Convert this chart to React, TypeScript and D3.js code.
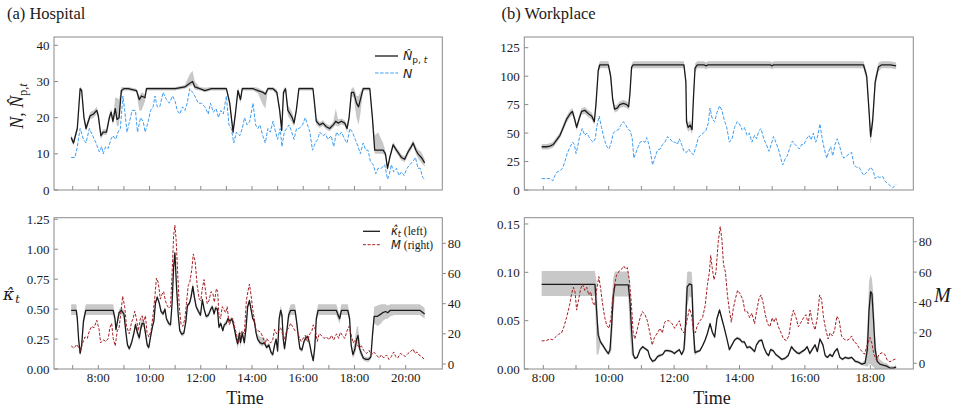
import React from 'react';
import * as d3 from 'd3';

// =============================================================================
// Data (time in decimal hours; estimator rows are [t, value, bandLow, bandHigh?])
// =============================================================================

type Pt = number[];

const hospNp: Pt[] = [
  [6.94, 14.5, 0.8], [7.03, 13, 0.8], [7.18, 17, 0.8], [7.29, 28, 0.6], [7.35, 27.5, 0.6], [7.44, 20, 0.8],
  [7.52, 17, 0.8], [7.61, 19, 1], [7.68, 20.5, 1], [7.81, 21, 1], [7.94, 22, 1], [8.0, 20.5, 1], [8.1, 15, 1],
  [8.19, 16, 0.8], [8.32, 16, 0.8], [8.43, 20, 1], [8.5, 21.5, 1], [8.57, 19, 1], [8.66, 22.5, 1.5, 3],
  [8.73, 19.5, 2, 6], [8.81, 20, 2, 5], [8.9, 27.5, 1], [9.0, 28, 0.5], [9.17, 28, 0.5], [9.49, 27.5, 0.5],
  [9.6, 25, 3, 1], [9.69, 26, 4, 1], [9.82, 25.5, 1], [9.88, 28, 0.5], [11.0, 28, 0.5], [11.38, 28.5, 0.5],
  [11.57, 29.5, 0.8, 2.5], [11.68, 30, 1, 3], [11.77, 28.5, 0.8, 1.5], [11.96, 28, 0.5], [12.16, 27.5, 0.5, 0.8],
  [12.42, 28, 0.5], [13.0, 28, 0.5], [13.13, 24, 1], [13.26, 16, 1], [13.35, 21, 1], [13.45, 27.5, 1],
  [13.55, 25, 1], [13.62, 28, 0.5], [14.04, 28, 0.5], [14.23, 27.5, 0.8], [14.43, 27, 3.5, 0.5],
  [14.52, 26.5, 4, 0.5], [14.62, 28, 0.5], [14.82, 28, 0.5], [14.97, 27, 0.8], [15.08, 22, 1], [15.16, 16.5, 1],
  [15.23, 27, 1], [15.31, 28, 0.6], [15.4, 22, 1.5], [15.49, 21, 1.5], [15.57, 20, 1.5], [15.64, 18.5, 1],
  [15.73, 22, 1], [15.83, 28, 0.5], [16.38, 28, 0.5], [16.44, 24, 1], [16.51, 19, 1], [16.64, 18, 0.8],
  [16.77, 18.5, 0.8], [16.9, 17.5, 0.8], [17.03, 17, 0.8], [17.17, 18, 0.8], [17.27, 19, 1, 3.5],
  [17.36, 18.5, 1], [17.49, 19, 0.8], [17.62, 18.5, 0.8], [17.71, 17, 1], [17.79, 20, 1], [17.88, 27, 1],
  [17.97, 27, 1.5], [18.08, 24, 4, 2], [18.16, 23, 5, 3], [18.23, 25, 4, 2], [18.34, 28, 0.5], [18.6, 28, 0.5],
  [18.7, 20, 1], [18.79, 11, 1, 4], [18.92, 11, 1, 5], [19.12, 11, 1, 2], [19.21, 10, 0.8], [19.29, 6, 0.8],
  [19.38, 9, 0.8], [19.51, 12.5, 0.8], [19.64, 11, 0.8], [19.74, 10, 0.8], [19.83, 9, 0.8], [19.96, 8.5, 0.8],
  [20.09, 10.5, 0.8], [20.22, 12, 0.8], [20.29, 13, 0.8], [20.4, 11, 1], [20.48, 10, 1.2], [20.61, 9, 1.5],
  [20.74, 7.5, 1],
];

const hospN: Pt[] = [
  [6.94, 9], [7.09, 9], [7.18, 12], [7.29, 17], [7.42, 14], [7.52, 13], [7.65, 17], [7.78, 15], [7.91, 13],
  [8.04, 10.5], [8.13, 12], [8.19, 10], [8.29, 12], [8.39, 11.5], [8.49, 14], [8.57, 15], [8.68, 14], [8.77, 16],
  [8.86, 17], [8.96, 26], [9.03, 22], [9.12, 16], [9.22, 19], [9.32, 22], [9.45, 22], [9.53, 16], [9.65, 20],
  [9.75, 19], [9.83, 16], [9.95, 19], [10.04, 22], [10.14, 23], [10.21, 26], [10.3, 23], [10.4, 23], [10.53, 27],
  [10.66, 25], [10.77, 24], [10.9, 26], [11.0, 24.5], [11.08, 22], [11.18, 21], [11.29, 23], [11.38, 22],
  [11.47, 24], [11.57, 28], [11.68, 27], [11.77, 26], [11.9, 24], [12.03, 24], [12.16, 23], [12.29, 21],
  [12.38, 24], [12.49, 21.5], [12.6, 22.5], [12.69, 20], [12.78, 22], [12.88, 21], [13.0, 26], [13.1, 18],
  [13.19, 17], [13.29, 13], [13.39, 16], [13.52, 15], [13.62, 17], [13.71, 20], [13.81, 18], [13.91, 19],
  [14.04, 24], [14.14, 18], [14.23, 17], [14.31, 18], [14.42, 15], [14.52, 13], [14.62, 17], [14.71, 16],
  [14.82, 19], [14.92, 16], [15.0, 14], [15.1, 17], [15.17, 12], [15.26, 16], [15.35, 17], [15.45, 18],
  [15.55, 16], [15.64, 14], [15.74, 17], [15.84, 17], [15.97, 18], [16.08, 20], [16.17, 18], [16.26, 16],
  [16.36, 11], [16.47, 13], [16.56, 14], [16.65, 16], [16.77, 15], [16.87, 15.5], [16.96, 14], [17.09, 15],
  [17.19, 12], [17.3, 16], [17.4, 15], [17.49, 16], [17.62, 14], [17.71, 13], [17.82, 17], [17.92, 16],
  [18.03, 14], [18.14, 12], [18.23, 10], [18.34, 13], [18.44, 11], [18.53, 11], [18.62, 8], [18.73, 7],
  [18.83, 4.5], [18.92, 6], [19.05, 6], [19.18, 7], [19.29, 3], [19.35, 4], [19.44, 7], [19.53, 5], [19.64, 6],
  [19.74, 4], [19.83, 5], [19.94, 4], [20.05, 6], [20.16, 7], [20.29, 8], [20.38, 9], [20.48, 6], [20.57, 6],
  [20.66, 3.5], [20.74, 3],
];

const hospKappa: Pt[] = [
  [6.94, 0.49, 0.04, 0.05], [7.14, 0.49, 0.04, 0.05], [7.18, 0.42, 0.04], [7.23, 0.25, 0.03], [7.29, 0.13, 0.02],
  [7.35, 0.2, 0.03], [7.42, 0.4, 0.04], [7.51, 0.49, 0.04, 0.05], [8.58, 0.49, 0.04, 0.05], [8.65, 0.42, 0.03],
  [8.69, 0.33, 0.03], [8.75, 0.4, 0.03], [8.81, 0.47, 0.03], [8.9, 0.49, 0.03], [9.0, 0.46, 0.03], [9.08, 0.3, 0.02],
  [9.14, 0.2, 0.02], [9.21, 0.17, 0.02], [9.3, 0.22, 0.02], [9.39, 0.3, 0.02], [9.45, 0.37, 0.03], [9.53, 0.3, 0.03],
  [9.6, 0.26, 0.03], [9.65, 0.33, 0.03, 0.06], [9.71, 0.38, 0.03, 0.06], [9.78, 0.38, 0.03], [9.84, 0.3, 0.03],
  [9.91, 0.2, 0.02], [9.97, 0.18, 0.02], [10.04, 0.27, 0.02], [10.12, 0.36, 0.02], [10.17, 0.4, 0.02],
  [10.23, 0.55, 0.02], [10.3, 0.6, 0.02], [10.38, 0.55, 0.02], [10.45, 0.48, 0.02], [10.53, 0.46, 0.02],
  [10.6, 0.5, 0.02], [10.66, 0.42, 0.02], [10.75, 0.38, 0.02], [10.82, 0.37, 0.02], [10.88, 0.55, 0.02],
  [10.94, 0.85, 0.02], [10.99, 0.97, 0.03], [11.05, 0.7, 0.02], [11.12, 0.45, 0.02], [11.18, 0.32, 0.02],
  [11.26, 0.29, 0.02], [11.34, 0.3, 0.02], [11.42, 0.4, 0.02], [11.48, 0.53, 0.02], [11.56, 0.55, 0.02],
  [11.62, 0.6, 0.03], [11.69, 0.69, 0.03], [11.75, 0.6, 0.03], [11.82, 0.52, 0.02], [11.91, 0.48, 0.02],
  [11.99, 0.45, 0.02], [12.06, 0.58, 0.02], [12.13, 0.5, 0.02], [12.21, 0.44, 0.02], [12.3, 0.45, 0.02],
  [12.39, 0.5, 0.02], [12.45, 0.52, 0.02], [12.52, 0.46, 0.02], [12.58, 0.51, 0.02], [12.65, 0.5, 0.02],
  [12.71, 0.35, 0.02], [12.78, 0.38, 0.02], [12.86, 0.32, 0.02], [12.92, 0.37, 0.02], [12.99, 0.38, 0.02],
  [13.06, 0.42, 0.02], [13.14, 0.4, 0.02], [13.22, 0.42, 0.02], [13.3, 0.35, 0.02], [13.38, 0.26, 0.03],
  [13.44, 0.21, 0.04], [13.51, 0.3, 0.04], [13.55, 0.22, 0.04], [13.62, 0.3, 0.03], [13.7, 0.22, 0.03],
  [13.77, 0.35, 0.02], [13.83, 0.52, 0.02], [13.9, 0.57, 0.02], [13.96, 0.5, 0.02], [14.03, 0.42, 0.02],
  [14.09, 0.4, 0.02], [14.16, 0.3, 0.02], [14.22, 0.25, 0.02, 0.04], [14.31, 0.22, 0.02, 0.05],
  [14.4, 0.21, 0.02, 0.05], [14.48, 0.22, 0.02, 0.04], [14.57, 0.18, 0.02], [14.66, 0.2, 0.02], [14.74, 0.14, 0.02],
  [14.81, 0.12, 0.02], [14.88, 0.2, 0.02], [14.94, 0.25, 0.02], [15.0, 0.15, 0.02], [15.06, 0.42, 0.03],
  [15.12, 0.49, 0.04], [15.17, 0.45, 0.04], [15.22, 0.25, 0.03], [15.27, 0.17, 0.02], [15.35, 0.3, 0.03],
  [15.43, 0.45, 0.04], [15.51, 0.49, 0.04, 0.05], [15.68, 0.49, 0.04, 0.05], [15.74, 0.4, 0.03], [15.82, 0.25, 0.02],
  [15.87, 0.17, 0.02], [15.95, 0.16, 0.02], [16.03, 0.23, 0.02], [16.1, 0.26, 0.02], [16.18, 0.27, 0.02],
  [16.26, 0.2, 0.02], [16.32, 0.13, 0.02], [16.39, 0.07, 0.02], [16.45, 0.18, 0.03], [16.51, 0.42, 0.04],
  [16.58, 0.49, 0.04, 0.05], [17.29, 0.49, 0.04, 0.05], [17.36, 0.45, 0.04], [17.42, 0.42, 0.04],
  [17.49, 0.49, 0.04, 0.05], [17.74, 0.49, 0.04, 0.05], [17.81, 0.42, 0.04], [17.87, 0.2, 0.03], [17.94, 0.12, 0.03],
  [18.01, 0.16, 0.04, 0.08], [18.09, 0.25, 0.06, 0.1], [18.14, 0.28, 0.06, 0.08], [18.2, 0.17, 0.04, 0.06],
  [18.27, 0.13, 0.03], [18.35, 0.09, 0.02], [18.45, 0.08, 0.02], [18.55, 0.08, 0.02], [18.64, 0.1, 0.02],
  [18.71, 0.3, 0.04], [18.77, 0.44, 0.06, 0.08], [18.9, 0.44, 0.08, 0.09], [19.04, 0.46, 0.08, 0.08],
  [19.1, 0.47, 0.07, 0.07], [19.22, 0.48, 0.06, 0.06], [19.3, 0.47, 0.05, 0.06], [19.4, 0.49, 0.05, 0.05],
  [19.56, 0.49, 0.04, 0.05], [19.75, 0.49, 0.04, 0.05], [20.55, 0.49, 0.04, 0.05], [20.68, 0.47, 0.04, 0.05],
  [20.74, 0.46, 0.04, 0.05],
];

const hospM: Pt[] = [
  [6.94, 12], [7.05, 10.5], [7.16, 13], [7.23, 11], [7.31, 9], [7.39, 14], [7.48, 18], [7.57, 17], [7.65, 22],
  [7.74, 25], [7.83, 24], [7.94, 29], [8.03, 23], [8.09, 14], [8.19, 16], [8.29, 15], [8.39, 17], [8.45, 24],
  [8.52, 27], [8.58, 17], [8.66, 12], [8.74, 22], [8.81, 24], [8.89, 35], [8.95, 45], [9.03, 38], [9.1, 25],
  [9.21, 20], [9.3, 28], [9.36, 30], [9.42, 35], [9.49, 30], [9.56, 22], [9.64, 30], [9.71, 32], [9.77, 28],
  [9.84, 32], [9.9, 21], [9.97, 18], [10.06, 22], [10.14, 33], [10.21, 45], [10.27, 57], [10.34, 54], [10.42, 43],
  [10.48, 46], [10.55, 48], [10.62, 42], [10.68, 39], [10.75, 37], [10.82, 38], [10.88, 60], [10.94, 85],
  [10.99, 92], [11.04, 82], [11.09, 63], [11.16, 38], [11.23, 26], [11.3, 25], [11.38, 30], [11.44, 40],
  [11.51, 52], [11.57, 54], [11.65, 63], [11.71, 73], [11.78, 68], [11.86, 52], [11.94, 43], [12.0, 42],
  [12.06, 50], [12.13, 56], [12.19, 48], [12.25, 40], [12.32, 42], [12.4, 48], [12.47, 47], [12.53, 41],
  [12.61, 50], [12.66, 48], [12.71, 32], [12.77, 30], [12.84, 38], [12.9, 36], [12.97, 34], [13.03, 38],
  [13.11, 26], [13.18, 28], [13.26, 30], [13.32, 25], [13.39, 20], [13.47, 14], [13.55, 20], [13.62, 22],
  [13.7, 20], [13.78, 42], [13.84, 48], [13.9, 53], [13.96, 46], [14.03, 36], [14.09, 30], [14.16, 22],
  [14.25, 22], [14.34, 21], [14.42, 18], [14.51, 13], [14.57, 17], [14.65, 15], [14.73, 14], [14.81, 16],
  [14.88, 23], [14.96, 20], [15.04, 22], [15.12, 24], [15.19, 20], [15.26, 16], [15.35, 22], [15.43, 24],
  [15.51, 27], [15.58, 25], [15.68, 22], [15.77, 22], [15.84, 18], [15.92, 15], [16.0, 17], [16.08, 19],
  [16.16, 15], [16.26, 20], [16.34, 22], [16.39, 26], [16.47, 23], [16.55, 15], [16.62, 20], [16.71, 19],
  [16.81, 17], [16.91, 18], [17.01, 16], [17.1, 19], [17.19, 16], [17.3, 20], [17.38, 17], [17.45, 21],
  [17.53, 19], [17.62, 17], [17.71, 22], [17.79, 25], [17.86, 20], [17.95, 14], [18.03, 16], [18.1, 13],
  [18.18, 11], [18.27, 12], [18.36, 9], [18.47, 7], [18.57, 9], [18.66, 6], [18.75, 8], [18.86, 6], [18.96, 4],
  [19.05, 6], [19.14, 4], [19.25, 6], [19.35, 3], [19.44, 5], [19.53, 8], [19.61, 5], [19.69, 4], [19.79, 7],
  [19.89, 6], [19.99, 5], [20.09, 7], [20.18, 8], [20.29, 10], [20.36, 7], [20.44, 8], [20.52, 6], [20.61, 5],
  [20.74, 3],
];

const workNp: Pt[] = [
  [7.95, 38, 2.5], [8.1, 38, 2.5], [8.2, 38.5, 2.5], [8.31, 40, 2.5], [8.41, 44, 2.5], [8.51, 48, 2.5],
  [8.61, 55, 3], [8.71, 62, 3], [8.82, 67, 3], [8.89, 69, 3], [8.96, 62, 3], [9.02, 55, 3], [9.09, 62, 3],
  [9.17, 69, 3], [9.27, 70, 3], [9.38, 67, 3], [9.48, 65, 3], [9.56, 60, 3], [9.61, 75, 4], [9.68, 105, 4],
  [9.73, 110, 3], [9.99, 110, 3], [10.06, 100, 4], [10.12, 80, 4], [10.18, 71, 3], [10.26, 72, 3], [10.34, 75, 3],
  [10.45, 76, 3], [10.55, 75, 3], [10.61, 73, 3], [10.65, 85, 4], [10.7, 108, 3], [10.75, 110, 3], [12.3, 110, 3],
  [12.36, 95, 5], [12.38, 60, 5], [12.43, 55, 4], [12.49, 57, 4], [12.55, 53, 4], [12.59, 80, 5], [12.64, 107, 4],
  [12.71, 110, 3], [12.91, 110, 3], [12.98, 109, 3], [13.04, 110, 3], [14.94, 110, 3], [14.99, 109, 3],
  [15.04, 110, 3], [17.79, 110, 3], [17.89, 100, 4], [17.96, 70, 6], [18.01, 47, 7], [18.07, 60, 6],
  [18.15, 95, 5], [18.25, 108, 4], [18.35, 110, 3], [18.61, 110, 3], [18.79, 109, 3],
];

const workN: Pt[] = [
  [7.95, 10], [8.2, 10], [8.29, 8], [8.36, 13], [8.43, 16], [8.51, 17], [8.59, 19], [8.66, 25], [8.73, 32],
  [8.82, 38], [8.9, 42], [8.95, 40], [9.0, 32], [9.05, 38], [9.12, 48], [9.19, 54], [9.27, 48], [9.33, 50],
  [9.39, 47], [9.45, 44], [9.52, 42], [9.59, 45], [9.63, 55], [9.71, 65], [9.78, 55], [9.86, 45], [9.94, 38],
  [10.01, 36], [10.08, 42], [10.14, 50], [10.22, 52], [10.3, 53], [10.37, 57], [10.45, 60], [10.52, 57],
  [10.6, 53], [10.66, 52], [10.72, 45], [10.77, 28], [10.82, 32], [10.9, 38], [10.96, 42], [11.03, 43],
  [11.11, 42], [11.16, 46], [11.23, 40], [11.28, 33], [11.34, 22], [11.41, 28], [11.49, 35], [11.57, 36],
  [11.65, 40], [11.72, 42], [11.8, 47], [11.87, 45], [11.96, 42], [12.03, 42], [12.1, 40], [12.16, 45],
  [12.23, 40], [12.3, 34], [12.38, 33], [12.45, 36], [12.51, 33], [12.59, 31], [12.67, 38], [12.74, 46],
  [12.81, 48], [12.89, 50], [12.97, 52], [13.04, 58], [13.1, 72], [13.17, 62], [13.24, 60], [13.31, 68],
  [13.39, 74], [13.46, 70], [13.53, 62], [13.61, 55], [13.69, 42], [13.77, 45], [13.85, 55], [13.93, 60],
  [14.0, 58], [14.08, 53], [14.15, 55], [14.23, 48], [14.3, 50], [14.38, 42], [14.46, 48], [14.52, 45],
  [14.59, 52], [14.66, 54], [14.74, 45], [14.82, 40], [14.9, 34], [14.97, 40], [15.04, 47], [15.11, 42],
  [15.19, 36], [15.26, 28], [15.32, 22], [15.39, 27], [15.46, 30], [15.55, 38], [15.62, 43], [15.7, 40],
  [15.77, 38], [15.83, 36], [15.9, 40], [15.97, 40], [16.05, 45], [16.13, 48], [16.19, 44], [16.26, 50],
  [16.33, 42], [16.38, 46], [16.46, 58], [16.53, 45], [16.6, 35], [16.67, 28], [16.73, 34], [16.79, 38],
  [16.85, 30], [16.92, 40], [16.99, 45], [17.05, 40], [17.12, 32], [17.19, 28], [17.28, 30], [17.36, 32],
  [17.43, 33], [17.5, 22], [17.58, 20], [17.66, 20], [17.73, 16], [17.8, 13], [17.87, 15], [17.94, 17],
  [18.01, 20], [18.09, 17], [18.15, 10], [18.21, 12], [18.29, 11], [18.38, 12], [18.44, 8], [18.52, 6],
  [18.6, 4], [18.68, 2], [18.73, 3], [18.79, 5],
];

const workKappa: Pt[] = [
  [7.95, 0.0876, 0.012, 0.0138], [9.58, 0.0876, 0.012, 0.0138], [9.63, 0.06, 0.045, 0.03], [9.68, 0.035, 0.02, 0.01],
  [9.75, 0.028, 0.002], [9.83, 0.024, 0.002], [9.92, 0.019, 0.002], [9.99, 0.016, 0.002], [10.04, 0.02, 0.004],
  [10.09, 0.045, 0.025, 0.025], [10.14, 0.075, 0.015, 0.02], [10.19, 0.087, 0.012, 0.0138],
  [10.6, 0.087, 0.012, 0.0138], [10.65, 0.07, 0.035, 0.02], [10.7, 0.04, 0.025, 0.01], [10.75, 0.015, 0.003],
  [10.8, 0.011, 0.0015], [10.87, 0.012, 0.0015], [10.96, 0.02, 0.0015], [11.04, 0.023, 0.0015],
  [11.12, 0.021, 0.0015], [11.2, 0.019, 0.0015], [11.26, 0.012, 0.0015], [11.34, 0.008, 0.0015],
  [11.41, 0.009, 0.0015], [11.5, 0.013, 0.0015], [11.57, 0.014, 0.0015], [11.65, 0.015, 0.0015],
  [11.73, 0.019, 0.0015], [11.82, 0.019, 0.0015], [11.93, 0.018, 0.0015], [12.01, 0.016, 0.0015],
  [12.08, 0.018, 0.0015], [12.16, 0.02, 0.0015], [12.23, 0.015, 0.0015], [12.3, 0.02, 0.003],
  [12.35, 0.045, 0.02, 0.03], [12.4, 0.085, 0.02, 0.015], [12.47, 0.088, 0.013, 0.013], [12.54, 0.087, 0.013, 0.013],
  [12.59, 0.04, 0.02, 0.03], [12.64, 0.017, 0.003], [12.71, 0.018, 0.0015], [12.79, 0.019, 0.0015],
  [12.87, 0.024, 0.0015], [12.95, 0.03, 0.0015], [13.02, 0.037, 0.0015], [13.1, 0.047, 0.002],
  [13.17, 0.038, 0.0015], [13.24, 0.033, 0.0015], [13.31, 0.052, 0.002], [13.39, 0.061, 0.002],
  [13.46, 0.052, 0.002], [13.53, 0.043, 0.0015], [13.61, 0.032, 0.0015], [13.69, 0.02, 0.0015],
  [13.77, 0.025, 0.0015], [13.85, 0.03, 0.0015], [13.93, 0.032, 0.0015], [14.0, 0.031, 0.0015],
  [14.08, 0.028, 0.0015], [14.15, 0.028, 0.0015], [14.23, 0.022, 0.0015], [14.31, 0.023, 0.0015],
  [14.38, 0.021, 0.0015], [14.46, 0.018, 0.0015], [14.52, 0.025, 0.0015], [14.6, 0.029, 0.0015],
  [14.68, 0.03, 0.0015], [14.75, 0.022, 0.0015], [14.83, 0.016, 0.0015], [14.89, 0.014, 0.0015],
  [14.95, 0.02, 0.002], [15.03, 0.019, 0.0015], [15.11, 0.015, 0.0015], [15.19, 0.013, 0.0015],
  [15.29, 0.01, 0.0015], [15.39, 0.011, 0.0015], [15.49, 0.014, 0.0015], [15.59, 0.023, 0.0015],
  [15.66, 0.02, 0.0015], [15.75, 0.017, 0.0015], [15.83, 0.016, 0.0015], [15.91, 0.018, 0.0015],
  [16.0, 0.02, 0.0015], [16.07, 0.023, 0.0015], [16.15, 0.016, 0.0015], [16.22, 0.02, 0.0015],
  [16.31, 0.025, 0.0015], [16.38, 0.018, 0.0015], [16.46, 0.031, 0.0015], [16.55, 0.025, 0.0015],
  [16.62, 0.014, 0.0015], [16.69, 0.012, 0.0015], [16.77, 0.015, 0.0015], [16.84, 0.013, 0.0015],
  [16.91, 0.018, 0.0015], [16.99, 0.021, 0.0015], [17.07, 0.012, 0.0015], [17.15, 0.01, 0.0015],
  [17.23, 0.012, 0.0015], [17.33, 0.011, 0.0015], [17.43, 0.012, 0.0015], [17.54, 0.008, 0.0015],
  [17.64, 0.007, 0.0015], [17.74, 0.005, 0.0015], [17.84, 0.006, 0.003], [17.91, 0.02, 0.018, 0.02],
  [17.96, 0.06, 0.055, 0.03], [18.01, 0.08, 0.075, 0.018], [18.05, 0.078, 0.075, 0.015], [18.1, 0.05, 0.048, 0.025],
  [18.15, 0.02, 0.02, 0.012], [18.21, 0.008, 0.008, 0.006], [18.29, 0.005, 0.005, 0.005], [18.39, 0.004, 0.004, 0.003],
  [18.5, 0.003, 0.003, 0.003], [18.6, 0.001, 0.001, 0.002], [18.7, 0.001, 0.001, 0.002], [18.79, 0.002, 0.002, 0.002],
];

const workM: Pt[] = [
  [7.95, 14.7], [8.1, 15], [8.2, 16], [8.29, 15.5], [8.36, 17], [8.46, 19], [8.56, 20], [8.63, 24], [8.71, 30],
  [8.8, 38], [8.87, 46], [8.92, 50], [8.97, 47], [9.02, 35], [9.08, 42], [9.14, 49], [9.2, 52], [9.27, 48],
  [9.33, 50], [9.39, 45], [9.45, 47], [9.51, 40], [9.57, 38], [9.63, 48], [9.7, 57], [9.76, 48], [9.82, 38],
  [9.88, 30], [9.94, 25], [10.01, 23], [10.07, 30], [10.12, 42], [10.18, 52], [10.24, 58], [10.33, 61],
  [10.4, 62], [10.46, 64], [10.52, 62], [10.57, 63], [10.63, 55], [10.69, 40], [10.75, 20], [10.8, 16],
  [10.87, 22], [10.96, 30], [11.03, 34], [11.11, 32], [11.18, 28], [11.26, 20], [11.33, 12], [11.4, 17],
  [11.49, 20], [11.57, 23], [11.64, 20], [11.71, 27], [11.77, 28], [11.85, 28], [11.94, 26], [12.02, 23],
  [12.1, 26], [12.16, 28], [12.23, 22], [12.3, 20], [12.36, 25], [12.41, 30], [12.47, 36], [12.53, 32],
  [12.59, 22], [12.65, 20], [12.71, 25], [12.79, 28], [12.87, 30], [12.95, 38], [13.02, 52], [13.08, 60],
  [13.12, 71], [13.17, 62], [13.22, 55], [13.28, 60], [13.35, 80], [13.41, 90], [13.46, 82], [13.51, 65],
  [13.57, 60], [13.63, 45], [13.69, 35], [13.75, 27], [13.81, 36], [13.87, 42], [13.94, 48], [14.01, 46],
  [14.1, 42], [14.17, 34], [14.24, 34], [14.31, 30], [14.38, 33], [14.46, 26], [14.52, 34], [14.6, 43],
  [14.66, 45], [14.72, 40], [14.79, 32], [14.86, 26], [14.93, 24], [15.0, 30], [15.05, 27], [15.11, 30],
  [15.19, 24], [15.27, 20], [15.35, 16], [15.43, 15], [15.51, 18], [15.59, 30], [15.65, 35], [15.73, 30],
  [15.8, 24], [15.88, 27], [15.96, 30], [16.03, 32], [16.1, 26], [16.16, 35], [16.23, 27], [16.31, 22],
  [16.38, 30], [16.45, 45], [16.51, 42], [16.57, 30], [16.64, 22], [16.71, 16], [16.77, 20], [16.84, 18],
  [16.91, 22], [16.98, 31], [17.05, 28], [17.12, 18], [17.19, 16], [17.28, 15], [17.36, 16], [17.43, 18],
  [17.5, 14], [17.58, 13], [17.66, 10], [17.74, 8], [17.82, 6], [17.91, 12], [17.99, 17], [18.05, 13],
  [18.11, 6], [18.19, 2], [18.27, 6], [18.36, 7], [18.44, 6], [18.52, 2], [18.6, 1], [18.68, 2], [18.79, 3],
];

// ticks
const hospHourTicks = [7, 8, 9, 10, 11, 12, 13, 14, 15, 16, 17, 18, 19, 20];
const hospHourLabels = [8, 10, 12, 14, 16, 18, 20];
const workHourTicks = [8, 9, 10, 11, 12, 13, 14, 15, 16, 17, 18];
const workHourLabels = [8, 10, 12, 14, 16, 18];
const hospNTicks = [0, 10, 20, 30, 40];
const hospKTicks = [0, 0.25, 0.5, 0.75, 1.0, 1.25];
const hospMTicks = [0, 20, 40, 60, 80];
const workNTicks = [0, 25, 50, 75, 100, 125];
const workKTicks = [0, 0.05, 0.1, 0.15];
const workMTicks = [0, 20, 40, 60, 80];

// =============================================================================
// Constants
// =============================================================================

const W = 954;
const H = 410;
const SERIF = '"Liberation Serif", "DejaVu Serif", serif';
const MATH = '"DejaVu Sans", sans-serif';
const AXIS = '#8a8a8a';
const INK = '#1a1a1a';
const BAND = '#c8c8c8';
const BLUE = '#3d9df2';
const RED = '#a61e22';

const LEFT = { x0: 54, x1: 442.3 };
const RIGHT = { x0: 524.3, x1: 913.3 };
const TOP = { y0: 37, y1: 190 };
const BOT = { y0: 217.7, y1: 369 };

type Scale = d3.ScaleLinear<number, number>;

const hhmm = (h: number) => `${h}:00`;

function Band({ data, x, y }: { data: Pt[]; x: Scale; y: Scale }) {
  const area = d3
    .area<Pt>()
    .x((d) => x(d[0]))
    .y0((d) => y(Math.max(0, d[1] - d[2])))
    .y1((d) => y(d[1] + (d[3] ?? d[2])));
  return <path d={area(data) ?? ''} fill={BAND} stroke="none" />;
}

function Line({ data, x, y, color, width, dash }: {
  data: Pt[]; x: Scale; y: Scale; color: string; width: number; dash?: string;
}) {
  const line = d3.line<Pt>().x((d) => x(d[0])).y((d) => y(d[1]));
  return (
    <path d={line(data) ?? ''} fill="none" stroke={color} strokeWidth={width}
      strokeDasharray={dash} strokeLinejoin="round" />
  );
}

function YAxisLeft({ y, ticks, x0, fmt }: { y: Scale; ticks: number[]; x0: number; fmt: (v: number) => string }) {
  return (
    <g>
      {ticks.map((t) => (
        <g key={t}>
          <line x1={x0} x2={x0 + 4} y1={y(t)} y2={y(t)} stroke={AXIS} strokeWidth={1} />
          <text x={x0 - 4.5} y={y(t)} dy="0.35em" textAnchor="end" fontFamily={SERIF} fontSize={13} fill={INK}>
            {fmt(t)}
          </text>
        </g>
      ))}
    </g>
  );
}

function YAxisRight({ y, ticks, x1 }: { y: Scale; ticks: number[]; x1: number }) {
  return (
    <g>
      {ticks.map((t) => (
        <g key={t}>
          <line x1={x1} x2={x1 + 3.5} y1={y(t)} y2={y(t)} stroke={AXIS} strokeWidth={1} />
          <text x={x1 + 5.5} y={y(t)} dy="0.35em" textAnchor="start" fontFamily={SERIF} fontSize={13} fill={INK}>
            {t}
          </text>
        </g>
      ))}
    </g>
  );
}

function XAxis({ x, ticks, labels, y1 }: { x: Scale; ticks: number[]; labels?: number[]; y1: number }) {
  return (
    <g>
      {ticks.map((t) => (
        <line key={t} x1={x(t)} x2={x(t)} y1={y1} y2={y1 - 4} stroke={AXIS} strokeWidth={1} />
      ))}
      {labels?.map((t) => (
        <text key={`l${t}`} x={x(t)} y={y1 + 12.5} textAnchor="middle" fontFamily={SERIF} fontSize={13} fill={INK}>
          {hhmm(t)}
        </text>
      ))}
    </g>
  );
}

function Frame({ x0, x1, y0, y1 }: { x0: number; x1: number; y0: number; y1: number }) {
  return <rect x={x0} y={y0} width={x1 - x0} height={y1 - y0} fill="none" stroke={AXIS} strokeWidth={1} />;
}

// =============================================================================
// Component
// =============================================================================

export default function App() {
  // Hospital scales
  const hx = d3.scaleLinear().domain([6.27, 21.429]).range([LEFT.x0, LEFT.x1]);
  const hyN = d3.scaleLinear().domain([0, 42.3]).range([TOP.y1, TOP.y0]);
  const hyK = d3.scaleLinear().domain([0, 1.2634]).range([BOT.y1, BOT.y0]);
  const hyM = d3.scaleLinear().domain([-3.3, 97]).range([BOT.y1, BOT.y0]);
  // Workplace scales
  const wx = d3.scaleLinear().domain([7.419, 19.315]).range([RIGHT.x0, RIGHT.x1]);
  const wyN = d3.scaleLinear().domain([0, 134.4]).range([TOP.y1, TOP.y0]);
  const wyK = d3.scaleLinear().domain([0, 0.1565]).range([BOT.y1, BOT.y0]);
  const wyM = d3.scaleLinear().domain([-3.75, 95.8]).range([BOT.y1, BOT.y0]);

  const clip = (id: string, xr: { x0: number; x1: number }, yr: { y0: number; y1: number }) => (
    <clipPath id={id}>
      <rect x={xr.x0} y={yr.y0} width={xr.x1 - xr.x0} height={yr.y1 - yr.y0} />
    </clipPath>
  );

  return (
    <svg width={W} height={H} style={{ position: 'absolute', left: 0, top: 0, background: '#fff' }}>
      <defs>
        {clip('c-ht', LEFT, TOP)}
        {clip('c-hb', LEFT, BOT)}
        {clip('c-wt', RIGHT, TOP)}
        {clip('c-wb', RIGHT, BOT)}
      </defs>
      <rect width={W} height={H} fill="#fff" />

      {/* Titles */}
      <text x={7} y={19} fontFamily={SERIF} fontSize={16.5} fill={INK}>(a) Hospital</text>
      <text x={501.5} y={19} fontFamily={SERIF} fontSize={16.5} fill={INK}>(b) Workplace</text>

      {/* ---------------- Hospital: top ---------------- */}
      <g clipPath="url(#c-ht)">
        <Band data={hospNp} x={hx} y={hyN} />
        <Line data={hospNp} x={hx} y={hyN} color={INK} width={1.3} />
        <Line data={hospN} x={hx} y={hyN} color={BLUE} width={1} dash="3.5,1.6" />
      </g>
      <Frame {...LEFT} {...TOP} />
      <YAxisLeft y={hyN} ticks={hospNTicks} x0={LEFT.x0} fmt={(v) => `${v}`} />
      <XAxis x={hx} ticks={hospHourTicks} y1={TOP.y1} />
      <text transform="translate(23,106) rotate(-90)" textAnchor="middle" fontFamily={SERIF} fontSize={18} fill={INK}>
        <tspan fontStyle="italic">N</tspan>
        <tspan>, </tspan>
        <tspan fontStyle="italic">{'N\u0302'}</tspan>
        <tspan fontSize={12} dy={4}>p,</tspan>
        <tspan fontSize={12} fontStyle="italic">t</tspan>
      </text>
      {/* legend */}
      <line x1={375} x2={398} y1={56} y2={56} stroke={INK} strokeWidth={1.3} />
      <text x={403} y={60} fontFamily={MATH} fontSize={12.5} fill={INK}>
        <tspan fontStyle="italic">{'N\u0302'}</tspan>
        <tspan fontSize={9} dy={3}>p, </tspan>
        <tspan fontSize={9} fontStyle="italic">t</tspan>
      </text>
      <line x1={375} x2={398} y1={73} y2={73} stroke={BLUE} strokeWidth={1} strokeDasharray="3.5,1.6" />
      <text x={403} y={77.5} fontFamily={MATH} fontSize={12.5} fontStyle="italic" fill={INK}>N</text>

      {/* ---------------- Hospital: bottom ---------------- */}
      <g clipPath="url(#c-hb)">
        <Band data={hospKappa} x={hx} y={hyK} />
        <Line data={hospKappa} x={hx} y={hyK} color={INK} width={1.3} />
        <Line data={hospM} x={hx} y={hyM} color={RED} width={1} dash="3,1.6" />
      </g>
      <Frame {...LEFT} {...BOT} />
      <YAxisLeft y={hyK} ticks={hospKTicks} x0={LEFT.x0} fmt={d3.format('.2f')} />
      <YAxisRight y={hyM} ticks={hospMTicks} x1={LEFT.x1} />
      <XAxis x={hx} ticks={hospHourTicks} labels={hospHourLabels} y1={BOT.y1} />
      <text x={3} y={299.5} fontFamily='"DejaVu Serif", serif' fontSize={17} fontStyle="italic" fill={INK}>
        <tspan>{'\u03BA\u0302'}</tspan>
        <tspan dx={1} dy={3} fontSize={11.5}>t</tspan>
      </text>
      <text x={245} y={404} textAnchor="middle" fontFamily={SERIF} fontSize={18} fill={INK}>Time</text>
      {/* legend */}
      <line x1={363} x2={380} y1={231.3} y2={231.3} stroke={INK} strokeWidth={1.3} />
      <text x={391} y={235} fontFamily={SERIF} fontSize={11.5} fill={INK}>
        <tspan fontFamily={MATH} fontStyle="italic">{'\u03BA\u0302'}</tspan>
        <tspan fontFamily={MATH} fontStyle="italic" fontSize={8} dy={2}>t</tspan>
        <tspan dy={-2}> (left)</tspan>
      </text>
      <line x1={363} x2={380} y1={244.7} y2={244.7} stroke={RED} strokeWidth={1} strokeDasharray="3,1.6" />
      <text x={391} y={248.7} fontFamily={SERIF} fontSize={11.5} fill={INK}>
        <tspan fontFamily={MATH} fontStyle="italic">M</tspan>
        <tspan> (right)</tspan>
      </text>

      {/* ---------------- Workplace: top ---------------- */}
      <g clipPath="url(#c-wt)">
        <Band data={workNp} x={wx} y={wyN} />
        <Line data={workNp} x={wx} y={wyN} color={INK} width={1.3} />
        <Line data={workN} x={wx} y={wyN} color={BLUE} width={1} dash="3.5,1.6" />
      </g>
      <Frame {...RIGHT} {...TOP} />
      <YAxisLeft y={wyN} ticks={workNTicks} x0={RIGHT.x0} fmt={(v) => `${v}`} />
      <XAxis x={wx} ticks={workHourTicks} y1={TOP.y1} />

      {/* ---------------- Workplace: bottom ---------------- */}
      <g clipPath="url(#c-wb)">
        <Band data={workKappa} x={wx} y={wyK} />
        <Line data={workKappa} x={wx} y={wyK} color={INK} width={1.3} />
        <Line data={workM} x={wx} y={wyM} color={RED} width={1} dash="3,1.6" />
      </g>
      <Frame {...RIGHT} {...BOT} />
      <YAxisLeft y={wyK} ticks={workKTicks} x0={RIGHT.x0} fmt={d3.format('.2f')} />
      <YAxisRight y={wyM} ticks={workMTicks} x1={RIGHT.x1} />
      <XAxis x={wx} ticks={workHourTicks} labels={workHourLabels} y1={BOT.y1} />
      <text x={934} y={302} fontFamily={SERIF} fontSize={20} fontStyle="italic" fill={INK}>M</text>
      <text x={712} y={404} textAnchor="middle" fontFamily={SERIF} fontSize={18} fill={INK}>Time</text>
    </svg>
  );
}
